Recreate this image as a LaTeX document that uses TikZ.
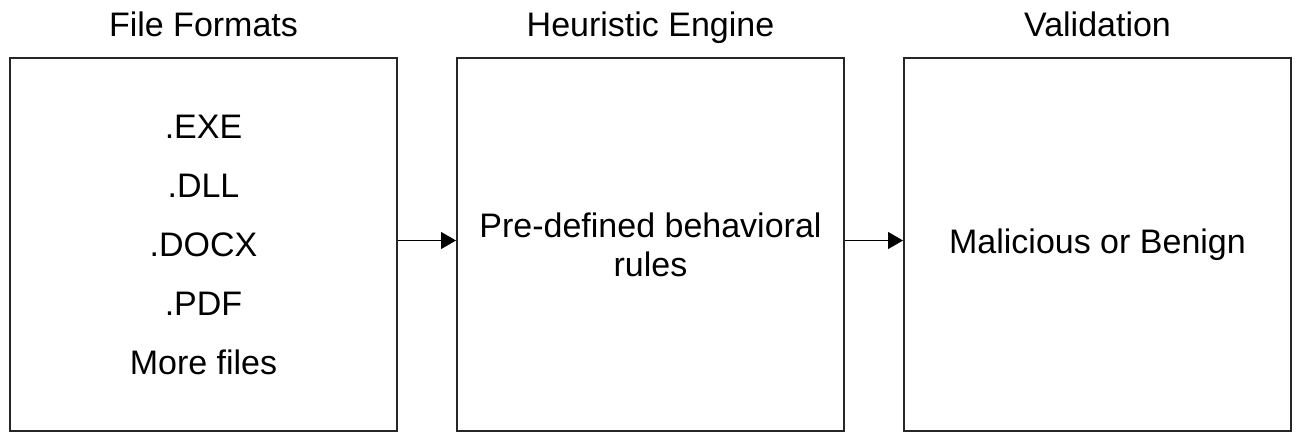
\documentclass[tikz,border=0pt]{standalone}
\usepackage{fontspec}
\setmainfont{Liberation Sans}
\usepackage{tikz}
\usetikzlibrary{arrows.meta,positioning}

\begin{document}
\begin{tikzpicture}[
    node distance=29pt,
    panel/.style={rectangle, draw=black!85, line width=1pt, minimum width=193.5pt, minimum height=186.5pt, align=center, inner sep=0pt, font=\fontsize{17}{19.5}\selectfont},
    heading/.style={font=\fontsize{17}{20}\selectfont, inner sep=0pt, anchor=base},
    arrow/.style={-{Triangle[length=7.5pt, width=8.5pt]}, line width=0.6pt, color=black}
]
    \useasboundingbox (0,0) rectangle (651.5pt,-220.5pt);

    % Boxes
    \node[panel, font=\fontsize{17}{29.5}\selectfont] (formats) at (101.75pt,-122.25pt) {.EXE\\.DLL\\.DOCX\\.PDF\\More files};
    \node[panel, right=of formats] (engine) {Pre-defined behavioral\\rules};
    \node[panel, right=of engine] (verdict) {Malicious or Benign};

    % Arrows
    \draw[arrow] ([yshift=2pt]formats.east) -- ([yshift=2pt]engine.west);
    \draw[arrow] ([yshift=2pt]engine.east) -- ([yshift=2pt]verdict.west);

    % Headings
    \node[heading, above=10.5pt of formats.north, anchor=base] {File Formats};
    \node[heading, above=10.5pt of engine.north, anchor=base] {Heuristic Engine};
    \node[heading, above=10.5pt of verdict.north, anchor=base] {Validation};
\end{tikzpicture}
\end{document}
